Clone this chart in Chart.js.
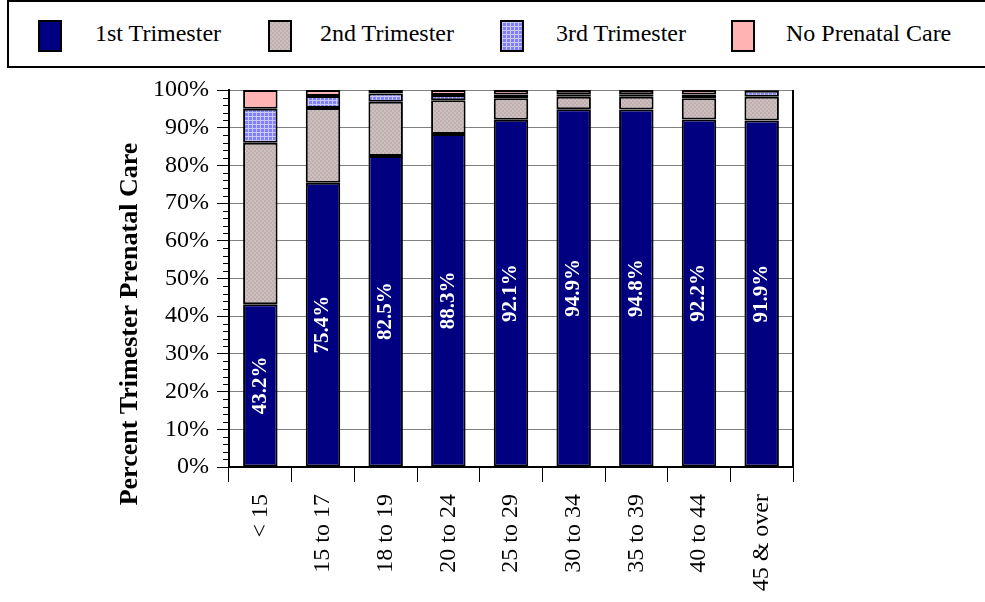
<!DOCTYPE html>
<html>
<head>
<meta charset="utf-8">
<script src="https://cdn.jsdelivr.net/npm/chart.js@4.4.1/dist/chart.umd.min.js"></script>
<style>
  body { margin: 0; background: #fff; }
  #wrap { position: relative; width: 985px; height: 602px; }
  #legend {
    position: absolute; left: 7px; top: 0; width: 990px; height: 64px;
    border: 2px solid #000; background: #fff; box-sizing: content-box;
    font-family: "Liberation Serif", "Times New Roman", serif; font-size: 24px;
  }
  .sw { position: absolute; top: 18px; width: 20px; height: 28px; border: 2px solid #000; }
  .lb { position: absolute; top: 18px; white-space: nowrap; }
</style>
</head>
<body>
<div id="wrap">
  <canvas id="chart" width="985" height="602"></canvas>
  <div id="legend"></div>
</div>
<script>
const categories = ['< 15', '15 to 17', '18 to 19', '20 to 24', '25 to 29', '30 to 34', '35 to 39', '40 to 44', '45 & over'];
const seriesNames = ['1st Trimester', '2nd Trimester', '3rd Trimester', 'No Prenatal Care'];
const first = [43.2, 75.4, 82.5, 88.3, 92.1, 94.9, 94.8, 92.2, 91.9];
const second = [42.8, 19.8, 14.4, 9.0, 5.7, 3.3, 3.4, 5.6, 6.3];
const third = [9.0, 3.2, 2.2, 1.4, 1.0, 0.7, 0.7, 1.0, 1.6];
const noCare = [5.0, 1.6, 0.9, 1.3, 1.2, 1.1, 1.1, 1.2, 0.2];
const yTicks = [0, 10, 20, 30, 40, 50, 60, 70, 80, 90, 100];

const serif = '"Liberation Serif", "Times New Roman", serif';

function makePattern(size, draw) {
  const c = document.createElement('canvas');
  c.width = size; c.height = size;
  const g = c.getContext('2d');
  draw(g);
  return c;
}

const secondTile = makePattern(4, (g) => {
  g.fillStyle = '#cdbfbf'; g.fillRect(0, 0, 4, 4);
  g.fillStyle = '#c0afaf'; g.fillRect(0, 0, 2, 2); g.fillRect(2, 2, 2, 2);
});
const thirdTile = makePattern(4, (g) => {
  g.fillStyle = '#8080ff'; g.fillRect(0, 0, 4, 4);
  g.fillStyle = '#c8c8ff'; g.fillRect(0, 0, 4, 1); g.fillRect(0, 0, 1, 4);
});

const ctx = document.getElementById('chart').getContext('2d');
const secondFill = ctx.createPattern(secondTile, 'repeat');
const thirdFill = ctx.createPattern(thirdTile, 'repeat');
const fills = ['#000080', secondFill, thirdFill, '#ffb3b3'];

// legend (positions relative to legend box inner edge at x=9)
const legend = document.getElementById('legend');
const swatchLeft = [29, 259, 491, 722];
const textLeft = [86, 311, 547, 777];
const legendSwatch = ['#000080', '#cbbdbd', '#9a9aff', '#ffb3b3'];
seriesNames.forEach((name, i) => {
  const sw = document.createElement('div');
  sw.className = 'sw';
  sw.style.left = swatchLeft[i] + 'px';
  sw.style.background = legendSwatch[i];
  if (i == 1) sw.style.background = 'url(' + secondTile.toDataURL() + ')';
  if (i == 2) sw.style.background = 'url(' + thirdTile.toDataURL() + ')';
  const lb = document.createElement('div');
  lb.className = 'lb';
  lb.style.left = textLeft[i] + 'px';
  lb.textContent = name;
  legend.appendChild(sw);
  legend.appendChild(lb);
});

const minorTicks = {
  id: 'minorTicks',
  afterDraw(chart) {
    const y = chart.scales.y;
    const c = chart.ctx;
    const area = chart.chartArea;
    c.save();
    c.strokeStyle = '#000';
    c.lineWidth = 1;
    for (let v = 0; v <= 100; v += 2) {
      if (v % 10 == 0) continue;
      const py = Math.round(y.getPixelForValue(v)) + 0.5;
      c.beginPath();
      c.moveTo(area.left - 6, py);
      c.lineTo(area.left, py);
      c.stroke();
    }
    // right border
    c.lineWidth = 2;
    c.beginPath();
    c.moveTo(area.right, area.top);
    c.lineTo(area.right, area.bottom);
    c.stroke();
    // axis title
    c.translate(130, 324);
    c.rotate(-Math.PI / 2);
    c.font = 'bold 26px ' + serif;
    c.fillStyle = '#000';
    c.textAlign = 'center';
    c.textBaseline = 'middle';
    c.fillText('Percent Trimester Prenatal Care', 0, 0);
    c.restore();
  }
};

const barLabels = {
  id: 'barLabels',
  afterDatasetsDraw(chart) {
    const meta = chart.getDatasetMeta(0);
    const c = chart.ctx;
    c.save();
    c.font = 'bold 21px ' + serif;
    c.fillStyle = '#fff';
    c.textAlign = 'center';
    c.textBaseline = 'middle';
    meta.data.forEach((bar, i) => {
      const cy = (bar.y + bar.base) / 2;
      c.save();
      c.translate(bar.x, cy);
      c.rotate(-Math.PI / 2);
      c.fillText(first[i].toFixed(1) + '%', 0, 0);
      c.restore();
    });
    c.restore();
  }
};

new Chart(ctx, {
  type: 'bar',
  data: {
    labels: categories,
    datasets: [first, second, third, noCare].map((d, i) => ({
      label: seriesNames[i],
      data: d,
      backgroundColor: fills[i],
      borderColor: '#000',
      borderWidth: 2,
      borderSkipped: false,
      barPercentage: 0.55,
      categoryPercentage: 1
    }))
  },
  options: {
    responsive: false,
    animation: false,
    layout: { padding: { left: 0, right: 192, top: 90, bottom: 0 } },
    plugins: { legend: { display: false }, tooltip: { enabled: false } },
    scales: {
      x: {
        stacked: true,
        offset: true,
        grid: { offset: true, drawOnChartArea: false, tickLength: 15, color: '#000', lineWidth: 1 },
        border: { color: '#000', width: 2 },
        ticks: { minRotation: 90, maxRotation: 90, padding: 12, color: '#000', font: { family: serif, size: 24 } },
        afterFit: (s) => { s.height = 135; }
      },
      y: {
        stacked: true,
        min: 0,
        max: 100,
        afterBuildTicks: (s) => { s.ticks = yTicks.map((v) => ({ value: v })); },
        grid: { color: '#808080', tickColor: '#000', tickLength: 12, lineWidth: 1 },
        border: { color: '#000', width: 2 },
        ticks: { padding: 8, color: '#000', font: { family: serif, size: 24 }, callback: (v) => v + '%' },
        afterFit: (s) => { s.width = 229; }
      }
    }
  },
  plugins: [minorTicks, barLabels]
});
</script>
</body>
</html>
